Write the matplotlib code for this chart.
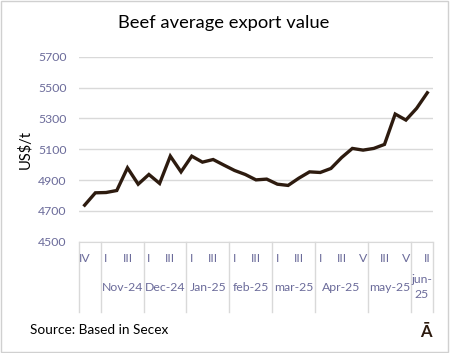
import matplotlib
matplotlib.use("Agg")
from matplotlib import pyplot as plt
from matplotlib import transforms
from matplotlib.patches import Rectangle

plt.rcParams['font.family'] = ['Lato', 'DejaVu Sans']

# weekly categories, grouped by month
months = ['', 'Nov-24', 'Dec-24', 'Jan-25', 'feb-25', 'mar-25', 'Apr-25', 'may-25', 'jun-\n25']
weeks = [
    ['IV', 'V'],
    ['I', 'II', 'III', 'IV'],
    ['I', 'II', 'III', 'IV'],
    ['I', 'II', 'III', 'IV'],
    ['I', 'II', 'III', 'IV'],
    ['I', 'II', 'III', 'IV'],
    ['I', 'II', 'III', 'IV', 'V'],
    ['II', 'III', 'IV', 'V'],
    ['I', 'II'],
]
values = [4737, 4817, 4819, 4832, 4979, 4873, 4936, 4878, 5055, 4953,
          5055, 5016, 5033, 4997, 4962, 4936, 4901, 4906, 4873, 4865,
          4912, 4953, 4949, 4975, 5046, 5105, 5094, 5105, 5131, 5328,
          5289, 5365, 5466]

line_color = '#2d1b0f'
tick_color = '#6b6b9a'
grid_color = '#d9d9d9'

fig = plt.figure(figsize=(4.5, 3.53), dpi=100)
ax = fig.add_axes([0.1762, 0.3153, 0.7853, 0.5241])

x = [i + 0.5 for i in range(len(values))]
ax.plot(x, values, color=line_color, lw=2.4, solid_joinstyle='miter', zorder=3)

ax.set_xlim(0, len(values))
ax.set_ylim(4500, 5700)
ax.set_yticks(range(4500, 5701, 200))
ax.yaxis.grid(True, color=grid_color, lw=1)
ax.set_axisbelow(True)
ax.tick_params(axis='y', length=0, pad=9, labelsize=8.8, labelcolor=tick_color)
ax.set_xticks([])
for s in ['top', 'right', 'left']:
    ax.spines[s].set_visible(False)
ax.spines['bottom'].set_color(grid_color)
ax.set_ylabel('US$/t', fontsize=10.5, labelpad=4)

# two-level category axis
tr = transforms.blended_transform_factory(ax.transData, ax.transAxes)
pos = 0
ax.plot([0, 0], [0, -0.378], transform=tr, color=grid_color, lw=1, clip_on=False)
idx = 0
for month, wk in zip(months, weeks):
    for j, w in enumerate(wk):
        if idx % 2 == 0:
            ax.text(pos + j + 0.5, -0.093, w, transform=tr, ha='center', va='center',
                    fontsize=8.8, color=tick_color)
        idx += 1
    ax.text(pos + len(wk) / 2, -0.245, month, transform=tr, ha='center', va='center',
            fontsize=8.8, color=tick_color, linespacing=1.5)
    pos += len(wk)
    ax.plot([pos, pos], [0, -0.378], transform=tr, color=grid_color, lw=1, clip_on=False)

fig.text(0.498, 0.935, 'Beef average export value', ha='center', va='center', fontsize=13.2)
fig.text(0.067, 0.065, 'Source: Based in Secex', ha='left', va='center', fontsize=9.8)
fig.text(0.947, 0.06, 'Ā', ha='center', va='center', fontsize=12, fontweight='bold',
         color='#2d1b0f')

fig.patches.append(Rectangle((0.002, 0.003), 0.993, 0.994, transform=fig.transFigure,
                             fill=False, edgecolor='#d0d0d0', lw=1))

fig.savefig('out.png', dpi=100)
